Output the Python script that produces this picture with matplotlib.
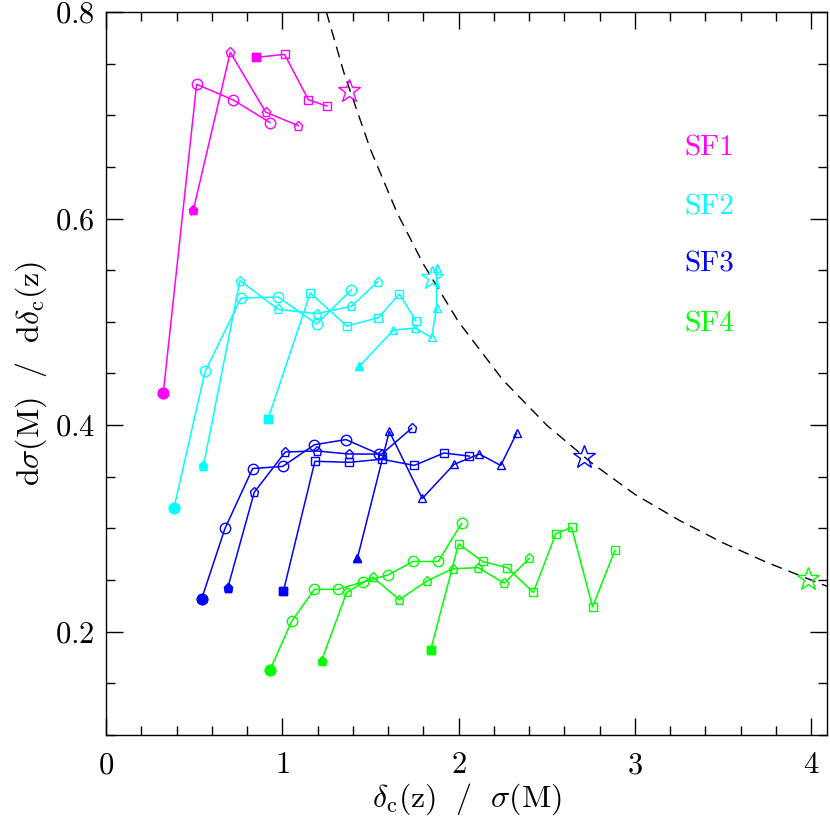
import matplotlib
matplotlib.use("Agg")
import matplotlib.pyplot as plt
from matplotlib.ticker import MultipleLocator

plt.rcParams['font.family'] = ['cmr10', 'DejaVu Serif']
plt.rcParams['mathtext.fontset'] = 'cm'
plt.rcParams['axes.unicode_minus'] = False
plt.rcParams['axes.formatter.use_mathtext'] = True

# SF1 (magenta)
sf1_circ_x = [0.325, 0.514, 0.720, 0.930]
sf1_circ_y = [0.431, 0.730, 0.715, 0.693]
sf1_pent_x = [0.495, 0.705, 0.906, 1.091]
sf1_pent_y = [0.608, 0.761, 0.703, 0.690]
sf1_sq_x = [0.851, 1.013, 1.148, 1.252]
sf1_sq_y = [0.756, 0.759, 0.715, 0.709]

# SF2 (cyan)
sf2_circ_x = [0.386, 0.562, 0.766, 0.977, 1.195, 1.392]
sf2_circ_y = [0.320, 0.452, 0.523, 0.524, 0.498, 0.531]
sf2_pent_x = [0.552, 0.760, 0.977, 1.195, 1.392, 1.541]
sf2_pent_y = [0.360, 0.540, 0.512, 0.508, 0.515, 0.539]
sf2_sq_x = [0.919, 1.159, 1.365, 1.545, 1.664, 1.758]
sf2_sq_y = [0.406, 0.528, 0.496, 0.504, 0.527, 0.501]
sf2_tri_x = [1.437, 1.630, 1.753, 1.847, 1.875, 1.875]
sf2_tri_y = [0.457, 0.492, 0.494, 0.485, 0.513, 0.552]

# SF3 (blue)
sf3_circ_x = [0.543, 0.675, 0.832, 1.002, 1.182, 1.361, 1.549]
sf3_circ_y = [0.232, 0.300, 0.358, 0.360, 0.381, 0.386, 0.372]
sf3_pent_x = [0.690, 0.841, 1.017, 1.195, 1.380, 1.564, 1.734]
sf3_pent_y = [0.242, 0.335, 0.374, 0.375, 0.372, 0.372, 0.397]
sf3_sq_x = [1.006, 1.185, 1.380, 1.564, 1.749, 1.917, 2.061]
sf3_sq_y = [0.239, 0.365, 0.364, 0.367, 0.361, 0.373, 0.370]
sf3_tri_x = [1.426, 1.607, 1.794, 1.974, 2.118, 2.239, 2.329]
sf3_tri_y = [0.271, 0.394, 0.329, 0.362, 0.372, 0.361, 0.392]

# SF4 (green)
sf4_circ_x = [0.930, 1.053, 1.182, 1.314, 1.456, 1.601, 1.743, 1.885, 2.017]
sf4_circ_y = [0.163, 0.210, 0.241, 0.241, 0.248, 0.255, 0.268, 0.268, 0.305]
sf4_pent_x = [1.223, 1.365, 1.512, 1.664, 1.819, 1.966, 2.112, 2.259, 2.401]
sf4_pent_y = [0.172, 0.238, 0.253, 0.231, 0.249, 0.261, 0.262, 0.247, 0.271]
sf4_sq_x = [1.841, 2.000, 2.136, 2.276, 2.424, 2.552, 2.641, 2.760, 2.887]
sf4_sq_y = [0.182, 0.285, 0.268, 0.262, 0.238, 0.295, 0.301, 0.224, 0.279]

# stars on the dashed curve
star_x = [1.378, 1.847, 2.71, 3.98]
star_y = [0.724, 0.542, 0.369, 0.251]

# dashed curve
curve_x = [1.25, 1.35, 1.5, 1.65, 1.8, 2.0, 2.25, 2.5, 2.75, 3.0, 3.25, 3.5, 3.75, 4.0, 4.09]
curve_y = [0.8, 0.741, 0.667, 0.606, 0.556, 0.5, 0.444, 0.4, 0.364, 0.333, 0.308, 0.286, 0.267, 0.25, 0.244]

labels = ['SF1', 'SF2', 'SF3', 'SF4']
colors = ['#ff00ff', '#00ffff', '#0000ff', '#00ff00']
label_y = [0.668, 0.611, 0.556, 0.498]

marker_sizes = {'o': 7.5, 'p': 6.5, 's': 5.2, '^': 6.2}

groups = [
    [(sf1_circ_x, sf1_circ_y, 'o'), (sf1_pent_x, sf1_pent_y, 'p'), (sf1_sq_x, sf1_sq_y, 's')],
    [(sf2_circ_x, sf2_circ_y, 'o'), (sf2_pent_x, sf2_pent_y, 'p'), (sf2_sq_x, sf2_sq_y, 's'),
     (sf2_tri_x, sf2_tri_y, '^')],
    [(sf3_circ_x, sf3_circ_y, 'o'), (sf3_pent_x, sf3_pent_y, 'p'), (sf3_sq_x, sf3_sq_y, 's'),
     (sf3_tri_x, sf3_tri_y, '^')],
    [(sf4_circ_x, sf4_circ_y, 'o'), (sf4_pent_x, sf4_pent_y, 'p'), (sf4_sq_x, sf4_sq_y, 's')],
]

fig = plt.figure(figsize=(8.3, 8.17), dpi=100)
ax = fig.add_axes([0.1277, 0.1004, 0.8687, 0.8849])

ax.plot(curve_x, curve_y, color='k', lw=1.0, linestyle=(0, (8, 5)), zorder=1)

for i in range(len(groups)):
    c = colors[i]
    for xs, ys, m in groups[i]:
        ms = marker_sizes[m]
        ax.plot(xs, ys, color=c, lw=1.1, marker=m, markersize=ms,
                markerfacecolor='none', markeredgecolor=c, markeredgewidth=1.0, zorder=2)
        ax.plot(xs[0], ys[0], linestyle='none', marker=m, markersize=ms,
                color=c, zorder=3)
    ax.plot(star_x[i], star_y[i], linestyle='none', marker='*', markersize=17,
            markerfacecolor='none', markeredgecolor=c, markeredgewidth=1.0, zorder=4)
    ax.text(3.28, label_y[i], labels[i], color=c, fontsize=21, va='center', ha='left')

ax.set_xlim(0, 4.09)
ax.set_ylim(0.1, 0.8)
ax.xaxis.set_major_locator(MultipleLocator(1))
ax.xaxis.set_minor_locator(MultipleLocator(0.2))
ax.yaxis.set_major_locator(MultipleLocator(0.2))
ax.yaxis.set_minor_locator(MultipleLocator(0.05))
ax.tick_params(which='both', direction='in', top=True, right=True, labelsize=22, width=1.0)
ax.tick_params(which='major', length=12)
ax.tick_params(which='minor', length=6.5)
ax.tick_params(axis='x', pad=12)
ax.tick_params(axis='y', pad=8)
for s in ax.spines.values():
    s.set_linewidth(1.0)

ax.set_xlabel(r'$\delta_{\rm c}({\rm z})\ \ /\ \ \sigma({\rm M})$', fontsize=23, labelpad=2)
ax.set_ylabel(r'${\rm d}\sigma({\rm M})\ \ /\ \ {\rm d}\delta_{\rm c}({\rm z})$', fontsize=23, labelpad=4)

fig.savefig('out.png', dpi=100)
